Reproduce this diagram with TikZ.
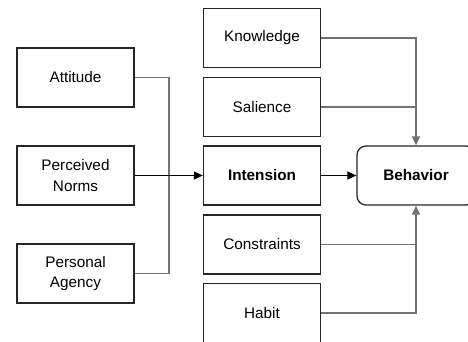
\documentclass[tikz,border=0pt]{standalone}
\usepackage{fontspec}
\setmainfont{Liberation Sans}
\usetikzlibrary{arrows.meta}
\begin{document}
\begin{tikzpicture}[x=1pt,y=-1pt,
  box/.style={draw=black!85,line width=1.3pt,minimum width=117pt,minimum height=59pt,inner sep=0pt,align=center,font=\fontsize{15.3}{20.5}\selectfont},
  conn/.style={draw=black!55,line width=1.3pt},
  tip/.style={-{Triangle[length=9pt,width=8pt]}}]
\useasboundingbox (0,0) rectangle (468,341);
\clip (0,0) rectangle (468,341);
\node[box] (att) at (75.5,77.5) {Attitude};
\node[box] (norm) at (75.5,175.5) {Perceived\\Norms};
\node[box] (agen) at (75.5,273.5) {Personal\\Agency};
\node[box] (know) at (262,38) {Knowledge};
\node[box] (sal) at (262,107) {Salience};
\node[box] (int) at (262,175.5) {\textbf{Intension}};
\node[box] (con) at (262,244.5) {Constraints};
\node[box] (hab) at (262,313) {Habit};
\node[box,rounded corners=9pt,minimum width=118pt] (beh) at (416,175.5) {\textbf{Behavior}};
\coordinate (bus) at (169,175.5);
\draw[conn] (att.east) -| (bus);
\draw[conn] (agen.east) -| (bus);
\draw[line width=1.3pt,tip] (norm.east) -- (int.west);
\draw[line width=1.3pt,tip] (int.east) -- (beh.west);
\draw[conn,tip] (know.east) -| (beh.north);
\draw[conn] (sal.east) -- (sal.east -| beh.north);
\draw[conn,tip] (hab.east) -| (beh.south);
\draw[conn] (con.east) -- (con.east -| beh.south);
\end{tikzpicture}
\end{document}
